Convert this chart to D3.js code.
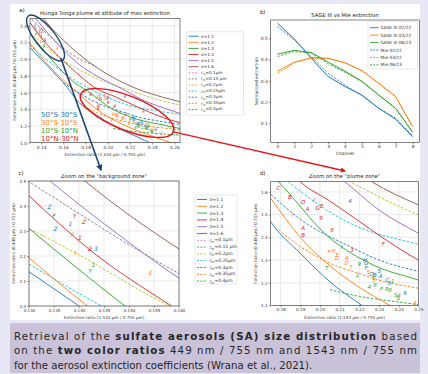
<!DOCTYPE html>
<html>
<head>
<meta charset="utf-8">
<script src="https://cdn.jsdelivr.net/npm/d3@7"></script>
<style>
  body { margin: 0; background: #e7e7f6; }
  svg { display: block; font-family: "DejaVu Sans", sans-serif; }
</style>
</head>
<body>
<svg id="fig" width="428" height="374"></svg>
<script>
// ---- data ----
const tab = { blue: '#1f77b4', orange: '#ff7f0e', green: '#2ca02c', red: '#d62728',
  purple: '#9467bd', brown: '#8c564b', pink: '#e377c2', gray: '#7f7f7f', olive: '#bcbd22', cyan: '#17becf' };

const sigmaLabels = ['1.1', '1.2', '1.3', '1.4', '1.5', '1.6'];
const sigmaColors = [tab.blue, tab.orange, tab.green, tab.red, tab.purple, tab.brown];
const radiusLabels = ['0.1µm', '0.15 µm', '0.2µm', '0.25µm', '0.3µm', '0.35µm', '0.4µm'];
const radiusColors = [tab.pink, tab.gray, tab.olive, tab.cyan, tab.blue, tab.orange, tab.green];

// solid lines, one per sigma: [ratio 1543/755, ratio 448/755]
const sigmaCurves = [
  [[0.130, 2.137], [0.140, 2.0], [0.150, 1.86], [0.160, 1.72], [0.175, 1.469], [0.190, 1.33], [0.205, 1.205], [0.221, 1.102], [0.238, 1.0]],
  [[0.130, 2.193], [0.1417, 2.0], [0.150, 1.88], [0.160, 1.75], [0.175, 1.572], [0.190, 1.40], [0.205, 1.275], [0.220, 1.18], [0.2356, 1.10], [0.250, 1.03], [0.265, 0.97]],
  [[0.130, 2.31], [0.1492, 2.0], [0.160, 1.84], [0.170, 1.72], [0.1789, 1.645], [0.2042, 1.403], [0.2271, 1.278], [0.250, 1.212], [0.265, 1.17]],
  [[0.130, 2.441], [0.1422, 2.224], [0.1585, 2.0], [0.175, 1.80], [0.190, 1.645], [0.205, 1.56], [0.220, 1.47], [0.235, 1.38], [0.250, 1.30], [0.265, 1.24]],
  [[0.133, 2.52], [0.1342, 2.5], [0.1482, 2.281], [0.160, 2.111], [0.175, 1.93], [0.190, 1.80], [0.2127, 1.645], [0.230, 1.52], [0.250, 1.418], [0.265, 1.35]],
  [[0.140, 2.52], [0.1412, 2.5], [0.160, 2.228], [0.175, 2.05], [0.190, 1.90], [0.205, 1.78], [0.2263, 1.645], [0.250, 1.543], [0.265, 1.49]]
];
// dashed lines, one per median radius (r=0.1 µm falls outside all views)
const radiusCurves = [
  [],
  [[0.129, 2.51], [0.140, 2.37], [0.150, 2.245], [0.160, 2.131], [0.175, 2.0], [0.190, 1.91]],
  [[0.130, 2.31], [0.1395, 2.21], [0.1582, 2.0], [0.175, 1.87], [0.190, 1.77], [0.2153, 1.645], [0.250, 1.499], [0.265, 1.45]],
  [[0.130, 2.167], [0.1445, 2.0], [0.160, 1.84], [0.1839, 1.645], [0.2153, 1.462], [0.250, 1.37], [0.265, 1.34]],
  [[0.160, 1.72], [0.175, 1.59], [0.190, 1.48], [0.2153, 1.359], [0.230, 1.30], [0.250, 1.25], [0.265, 1.22]],
  [[0.1789, 1.433], [0.190, 1.36], [0.2034, 1.293], [0.220, 1.24], [0.235, 1.20], [0.250, 1.176], [0.265, 1.155]],
  [[0.205, 1.17], [0.220, 1.14], [0.240, 1.115], [0.265, 1.09]]
];

// retrieved points per latitude band: [ratio 1543/755, ratio 448/755, label]
const band50S30S = [
  [0.1341, 2.397, 'Z'], [0.1350, 2.361, 'F'], [0.1353, 2.308, '2'], [0.1383, 2.327, '1'], [0.1434, 2.229, '3'],
  [0.2153, 1.560, '4'], [0.2110, 1.359, 'I'], [0.2229, 1.300, 'H'], [0.2234, 1.286, 'G'], [0.2234, 1.267, 'F'],
  [0.2263, 1.237, 'D'], [0.2279, 1.234, 'B'], [0.2308, 1.231, 'A'], [0.2301, 1.252, '5'], [0.2342, 1.212, 'C'],
  [0.2352, 1.198, '3'], [0.2432, 1.156, '6']
];
const band30S10S = [
  [0.1387, 2.284, 'F'], [0.1393, 2.211, 'I'], [0.1542, 2.131, '3'],
  [0.1860, 1.499, 'I'], [0.2047, 1.334, 'F'], [0.2068, 1.340, 'H'], [0.2088, 1.322, 'E'], [0.2085, 1.311, 'G'],
  [0.2136, 1.308, 'A'], [0.2136, 1.286, 'D'], [0.2156, 1.271, '7'], [0.2245, 1.246, '5'], [0.2274, 1.212, '5'],
  [0.2403, 1.146, '4'], [0.2483, 1.110, '3']
];
const band10S10N = [
  [0.1429, 2.164, '1'], [0.1422, 2.140, 'Y'],
  [0.2034, 1.267, 'T'], [0.2190, 1.234, '1'], [0.2200, 1.281, '9'], [0.2250, 1.183, '4'], [0.2279, 1.190, '8'],
  [0.2313, 1.173, 'F'], [0.2339, 1.173, '9'], [0.2369, 1.208, '1'], [0.2356, 1.168, '8'], [0.2398, 1.132, '5'],
  [0.2271, 1.220, 'T'], [0.2385, 1.145, 'S']
];
const band10N30N = [
  [0.1391, 2.361, 'Y'], [0.1410, 2.335, 'Z'], [0.1402, 2.271, '1'], [0.1422, 2.227, '2'],
  [0.1789, 1.616, 'C'], [0.1848, 1.577, 'B'], [0.1915, 1.557, 'D'], [0.1970, 1.565, 'I'], [0.1936, 1.525, 'A'],
  [0.1987, 1.528, 'G'], [0.2009, 1.540, 'E'], [0.2005, 1.487, '9'], [0.1915, 1.443, 'A'], [0.1915, 1.411, 'B'],
  [0.2061, 1.431, '8'], [0.2322, 1.370, 'F'], [0.2161, 1.345, '3']
];
const bands = [
  { name: '50°S-30°S', pts: band50S30S, color: tab.blue },
  { name: '30°S-10°S', pts: band30S10S, color: tab.orange },
  { name: '10°S-10°N', pts: band10S10N, color: tab.green },
  { name: '10°N-30°N', pts: band10N30N, color: tab.red }
];

// panel b: normalized extinction per SAGE III channel
const channels = [0, 1, 2, 3, 4, 5, 6, 7, 8];
const sage0222 = [0.571, 0.497, 0.406, 0.320, 0.273, 0.233, 0.171, 0.119, 0.037];
const sage0322 = [0.346, 0.387, 0.409, 0.406, 0.385, 0.348, 0.288, 0.225, 0.084];
const sage0623 = [0.425, 0.443, 0.433, 0.388, 0.345, 0.298, 0.233, 0.170, 0.058];
const mie0222 = [0.555, 0.492, 0.414, 0.335, 0.280, 0.230, 0.171, 0.124, 0.042];
const mie0322 = [0.335, 0.385, 0.405, 0.404, 0.384, 0.347, 0.288, 0.226, 0.085];
const mie0623 = [0.414, 0.438, 0.430, 0.380, 0.340, 0.295, 0.232, 0.170, 0.060];

// ---- drawing ----
const svg = d3.select('#fig');
svg.append('rect').attr('width', 428).attr('height', 374).attr('fill', '#e7e7f6');
svg.append('rect').attr('x', 10).attr('y', 4).attr('width', 410).attr('height', 316).attr('fill', '#fff');
const defs = svg.append('defs');

function makePanel(p) {
  const x = d3.scaleLinear().domain(p.xd).range([p.l, p.r]);
  const y = d3.scaleLinear().domain(p.yd).range([p.b, p.t]);
  const g = svg.append('g');
  defs.append('clipPath').attr('id', 'clip-' + p.name)
    .append('rect').attr('x', p.l).attr('y', p.t).attr('width', p.r - p.l).attr('height', p.b - p.t);

  if (p.grid) {
    g.append('g').selectAll('line').data(p.xt).join('line')
      .attr('x1', d => x(d)).attr('x2', d => x(d)).attr('y1', p.t).attr('y2', p.b)
      .attr('stroke', '#dcdcdc').attr('stroke-width', 0.6);
    g.append('g').selectAll('line').data(p.yt).join('line')
      .attr('y1', d => y(d)).attr('y2', d => y(d)).attr('x1', p.l).attr('x2', p.r)
      .attr('stroke', '#dcdcdc').attr('stroke-width', 0.6);
  }

  const xa = g.append('g').attr('transform', `translate(0,${p.b})`)
    .call(d3.axisBottom(x).tickValues(p.xt).tickFormat(d3.format(p.xf)).tickSize(1.8).tickPadding(1.2));
  const ya = g.append('g').attr('transform', `translate(${p.l},0)`)
    .call(d3.axisLeft(y).tickValues(p.yt).tickFormat(d3.format(p.yf)).tickSize(1.8).tickPadding(1.2));
  [xa, ya].forEach(a => {
    a.select('.domain').remove();
    a.selectAll('line').attr('stroke', '#333').attr('stroke-width', 0.5);
    a.selectAll('text').attr('font-size', p.tickFs).attr('fill', '#333').attr('font-family', 'DejaVu Sans');
  });

  const inner = g.append('g').attr('clip-path', `url(#clip-${p.name})`);
  g.append('rect').attr('x', p.l).attr('y', p.t).attr('width', p.r - p.l).attr('height', p.b - p.t)
    .attr('fill', 'none').attr('stroke', '#333').attr('stroke-width', 0.6);

  g.append('text').attr('x', (p.l + p.r) / 2).attr('y', p.t - 3.5).attr('text-anchor', 'middle')
    .attr('font-size', 5.3).attr('fill', '#222').text(p.title);
  g.append('text').attr('x', p.l - 8).attr('y', p.t - 6.5).attr('text-anchor', 'middle')
    .attr('font-size', 5.5).attr('fill', '#222').text(p.letter);
  g.append('text').attr('x', (p.l + p.r) / 2).attr('y', p.b + 13).attr('text-anchor', 'middle')
    .attr('font-size', p.labFs).attr('fill', '#333').text(p.xlab);
  g.append('text').attr('transform', `translate(${p.l - p.ylabOff},${(p.t + p.b) / 2}) rotate(-90)`)
    .attr('text-anchor', 'middle').attr('font-size', p.labFs).attr('fill', '#333').text(p.ylab);
  return { x, y, g, inner };
}

function drawRatioPanel(P, ptFs) {
  const line = d3.line().x(d => P.x(d[0])).y(d => P.y(d[1])).curve(d3.curveMonotoneX);
  radiusCurves.forEach((c, i) => {
    if (!c.length) return;
    P.inner.append('path').attr('d', line(c)).attr('fill', 'none').attr('stroke', radiusColors[i])
      .attr('stroke-width', 0.9).attr('stroke-dasharray', '2.6,1.6');
  });
  sigmaCurves.forEach((c, i) => {
    P.inner.append('path').attr('d', line(c)).attr('fill', 'none').attr('stroke', sigmaColors[i])
      .attr('stroke-width', 0.9);
  });
  const [x0, x1] = P.x.domain(), [y0, y1] = P.y.domain();
  bands.forEach(b => {
    const shown = b.pts.filter(d => d[0] >= x0 && d[0] <= x1 && d[1] >= y0 && d[1] <= y1);
    P.g.append('g').selectAll('text').data(shown).join('text')
      .attr('x', d => P.x(d[0])).attr('y', d => P.y(d[1])).attr('dy', '0.35em')
      .attr('text-anchor', 'middle').attr('font-size', ptFs).attr('font-style', 'italic')
      .attr('fill', b.color).text(d => d[2]);
  });
}

function ratioLegend(x0, y0, w, h, step, fs) {
  const g = svg.append('g');
  g.append('rect').attr('x', x0).attr('y', y0).attr('width', w).attr('height', h).attr('rx', 1)
    .attr('fill', '#fff').attr('stroke', '#d0d0d0').attr('stroke-width', 0.5);
  const items = sigmaLabels.map((s, i) => ({ kind: 's', label: s, color: sigmaColors[i] }))
    .concat(radiusLabels.map((r, i) => ({ kind: 'r', label: r, color: radiusColors[i] })));
  items.forEach((it, i) => {
    const yy = y0 + 4.5 + i * step;
    g.append('line').attr('x1', x0 + 2).attr('x2', x0 + 12).attr('y1', yy).attr('y2', yy)
      .attr('stroke', it.color).attr('stroke-width', 0.9)
      .attr('stroke-dasharray', it.kind === 'r' ? '2,1.3' : null);
    const t = g.append('text').attr('x', x0 + 14.5).attr('y', yy).attr('dy', '0.35em')
      .attr('font-size', fs).attr('fill', '#333');
    if (it.kind === 's') {
      t.text('σ=' + it.label);
    } else {
      t.append('tspan').attr('font-style', 'italic').text('r');
      t.append('tspan').attr('font-size', fs * 0.7).attr('dy', '0.3em').text('m');
      t.append('tspan').attr('dy', '-0.3em').text('=' + it.label);
    }
  });
}

// panel a
const A = makePanel({ name: 'a', l: 30, r: 180, t: 18.3, b: 142.7, xd: [0.13, 0.265], yd: [1.0, 2.49],
  xt: [0.14, 0.16, 0.18, 0.20, 0.22, 0.24, 0.26], yt: [1.0, 1.2, 1.4, 1.6, 1.8, 2.0, 2.2, 2.4],
  xf: '.2f', yf: '.1f', tickFs: 4.4, labFs: 4.2, ylabOff: 14, grid: true,
  title: 'Hunga Tonga plume at altitude of max extinction', letter: 'a)',
  xlab: 'Extinction ratio (1.543 µm / 0.755 µm)', ylab: 'Extinction ratio (0.448 µm / 0.755 µm)' });
drawRatioPanel(A, 4.6);
bands.forEach((b, i) => {
  A.g.append('text').attr('x', 41).attr('y', 116.8 + i * 8.2).attr('font-size', 7)
    .attr('fill', b.color).text(b.name);
});
ratioLegend(186.5, 31.7, 57, 83.5, 6.1, 4.2);

// panel c
const C = makePanel({ name: 'c', l: 29, r: 179, t: 181, b: 306, xd: [0.130, 0.160], yd: [2.0, 2.5],
  xt: [0.130, 0.135, 0.140, 0.145, 0.150, 0.155, 0.160], yt: [2.0, 2.1, 2.2, 2.3, 2.4, 2.5],
  xf: '.3f', yf: '.1f', tickFs: 4, labFs: 4.2, ylabOff: 14, grid: true,
  title: 'Zoom on the "background zone"', letter: 'c)',
  xlab: 'Extinction ratio (1.543 µm / 0.755 µm)', ylab: 'Extinction ratio (0.448 µm / 0.755 µm)' });
drawRatioPanel(C, 6);
ratioLegend(195, 195, 42, 89, 6.8, 4.5);

// panel d
const D = makePanel({ name: 'd', l: 270.7, r: 418.5, t: 181.7, b: 305.5, xd: [0.175, 0.25], yd: [1.1, 1.645],
  xt: [0.18, 0.19, 0.20, 0.21, 0.22, 0.23, 0.24, 0.25], yt: [1.1, 1.2, 1.3, 1.4, 1.5, 1.6],
  xf: '.2f', yf: '.1f', tickFs: 4.2, labFs: 4.2, ylabOff: 14, grid: true,
  title: 'Zoom on the "plume zone"', letter: 'd)',
  xlab: 'Extinction ratio (1.543 µm / 0.755 µm)', ylab: 'Extinction ratio (0.448 µm / 0.755 µm)' });
drawRatioPanel(D, 5.6);

// panel b
const B = makePanel({ name: 'b', l: 270.7, r: 419.3, t: 20, b: 142.3, xd: [-0.4, 8.4], yd: [0.0106, 0.586],
  xt: channels, yt: [0.1, 0.2, 0.3, 0.4, 0.5], xf: 'd', yf: '.1f', tickFs: 4.4, labFs: 4.4, ylabOff: 13,
  grid: false, title: 'SAGE III vs Mie extinction', letter: 'b)', xlab: 'Channel', ylab: 'Normalized extinction' });
const bSeries = [
  { label: 'SAGE III 02/22', v: sage0222, color: tab.blue, dash: null },
  { label: 'SAGE III 03/22', v: sage0322, color: tab.orange, dash: null },
  { label: 'SAGE III 06/23', v: sage0623, color: tab.green, dash: null },
  { label: 'Mie 02/22', v: mie0222, color: tab.blue, dash: '2.4,1.4' },
  { label: 'Mie 03/22', v: mie0322, color: tab.orange, dash: '2.4,1.4' },
  { label: 'Mie 06/23', v: mie0623, color: tab.green, dash: '2.4,1.4' }
];
const bLine = d3.line().x((d, i) => B.x(channels[i])).y(d => B.y(d));
bSeries.forEach(s => {
  B.inner.append('path').attr('d', bLine(s.v)).attr('fill', 'none').attr('stroke', s.color)
    .attr('stroke-width', s.dash ? 0.8 : 1).attr('stroke-dasharray', s.dash);
});
const bl = svg.append('g');
bl.append('rect').attr('x', 368).attr('y', 21.5).attr('width', 49.5).attr('height', 47.5).attr('rx', 1)
  .attr('fill', '#fff').attr('stroke', '#d0d0d0').attr('stroke-width', 0.5);
bSeries.forEach((s, i) => {
  const yy = 27.7 + i * 7.45;
  bl.append('line').attr('x1', 370).attr('x2', 378.5).attr('y1', yy).attr('y2', yy)
    .attr('stroke', s.color).attr('stroke-width', 0.9).attr('stroke-dasharray', s.dash ? '2,1.2' : null);
  bl.append('text').attr('x', 380.5).attr('y', yy).attr('dy', '0.35em').attr('font-size', 4.3)
    .attr('fill', '#333').text(s.label);
});

// ellipses and arrows linking panel a to the zooms
defs.append('marker').attr('id', 'headNavy').attr('viewBox', '0 0 10 10').attr('refX', 8).attr('refY', 5)
  .attr('markerWidth', 4).attr('markerHeight', 4).attr('orient', 'auto')
  .append('path').attr('d', 'M0,0L10,5L0,10z').attr('fill', '#1f4470');
defs.append('marker').attr('id', 'headRed').attr('viewBox', '0 0 10 10').attr('refX', 8).attr('refY', 5)
  .attr('markerWidth', 4).attr('markerHeight', 4).attr('orient', 'auto')
  .append('path').attr('d', 'M0,0L10,5L0,10z').attr('fill', '#e8141c');

const bgEll = { cx: A.x(0.144), cy: A.y(2.254), rx: 28, ry: 10, rot: 52 };
const plEll = { cx: A.x(0.2173), cy: A.y(1.356), rx: 50, ry: 17, rot: 22 };
[[bgEll, '#1f4470'], [plEll, '#e8141c']].forEach(([e, col]) => {
  svg.append('ellipse').attr('cx', e.cx).attr('cy', e.cy).attr('rx', e.rx).attr('ry', e.ry)
    .attr('transform', `rotate(${e.rot},${e.cx},${e.cy})`)
    .attr('fill', 'none').attr('stroke', col).attr('stroke-width', 1.4);
});
function ellEnd(e) {
  const a = e.rot * Math.PI / 180;
  return [e.cx + e.rx * Math.cos(a), e.cy + e.rx * Math.sin(a)];
}
const s1 = ellEnd(bgEll), s2 = ellEnd(plEll);
svg.append('line').attr('x1', s1[0] - 2).attr('y1', s1[1] - 2).attr('x2', 101).attr('y2', 170)
  .attr('stroke', '#1f4470').attr('stroke-width', 1.6).attr('marker-end', 'url(#headNavy)');
svg.append('line').attr('x1', s2[0] - 1).attr('y1', s2[1]).attr('x2', 345).attr('y2', 171)
  .attr('stroke', '#e8141c').attr('stroke-width', 1.3).attr('marker-end', 'url(#headRed)');

// caption box
const cap = svg.append('g');
cap.append('rect').attr('x', 10).attr('y', 323).attr('width', 410).attr('height', 50).attr('fill', '#c9c2d9');
const capLines = [
  { parts: [['Retrieval of the ', false], ['sulfate aerosols (SA) size distribution', true], [' based', false]], len: 403 },
  { parts: [['on the ', false], ['two color ratios', true], [' 449 nm / 755 nm and 1543 nm / 755 nm', false]], len: 403 },
  { parts: [['for the aerosol extinction coefficients (Wrana et al., 2021).', false]], len: null }
];
capLines.forEach((ln, i) => {
  const t = cap.append('text').attr('x', 14).attr('y', 339.5 + i * 14.6).attr('font-size', 10.2)
    .attr('fill', '#262626').attr('font-family', 'DejaVu Sans');
  if (ln.len) t.attr('textLength', ln.len).attr('lengthAdjust', 'spacing');
  ln.parts.forEach(p => t.append('tspan').attr('font-weight', p[1] ? 'bold' : null).text(p[0]));
});
</script>
</body>
</html>
